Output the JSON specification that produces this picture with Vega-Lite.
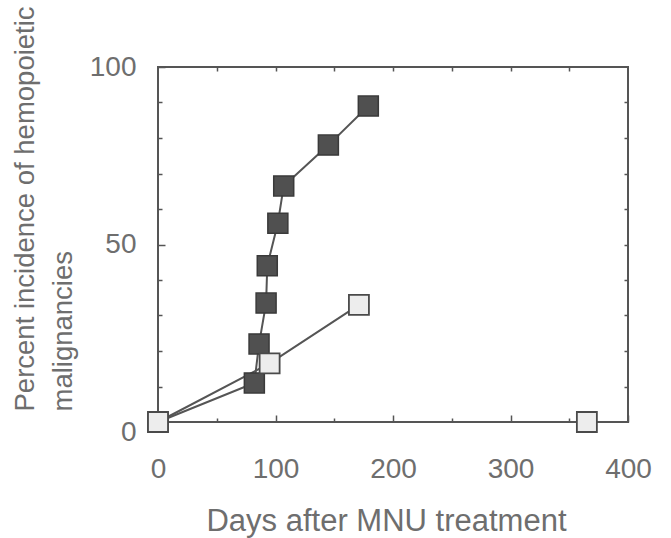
{
  "$schema": "https://vega.github.io/schema/vega-lite/v6.json",
  "width": 470,
  "height": 355,
  "autosize": {"type": "none"},
  "padding": {"left": 158, "top": 67, "right": 43, "bottom": 116},
  "background": "white",
  "config": {
    "view": {"stroke": "#555555", "strokeWidth": 2},
    "font": "Liberation Sans",
    "axis": {
      "domain": false,
      "grid": false,
      "tickColor": "#555555",
      "tickWidth": 1.5,
      "labelFont": "Liberation Sans",
      "labelFontSize": 28,
      "labelColor": "#6e6e6e",
      "titleFont": "Liberation Sans",
      "titleColor": "#6e6e6e",
      "titleFontWeight": "normal"
    }
  },
  "data": {
    "values": [
      {"group": "MNU", "days": 0, "pct": 0},
      {"group": "MNU", "days": 82, "pct": 11},
      {"group": "MNU", "days": 86, "pct": 22},
      {"group": "MNU", "days": 92, "pct": 33.5},
      {"group": "MNU", "days": 93, "pct": 44},
      {"group": "MNU", "days": 102, "pct": 56},
      {"group": "MNU", "days": 107, "pct": 66.5},
      {"group": "MNU", "days": 145, "pct": 78},
      {"group": "MNU", "days": 179, "pct": 89},
      {"group": "MNU+B", "days": 0, "pct": 0},
      {"group": "MNU+B", "days": 95, "pct": 16.5},
      {"group": "MNU+B", "days": 171, "pct": 33},
      {"group": "Control", "days": 365, "pct": 0}
    ]
  },
  "layer": [
    {
      "mark": {"type": "line", "color": "#555555", "strokeWidth": 2},
      "transform": [{"filter": "datum.group !== 'Control'"}],
      "encoding": {
        "x": {
          "field": "days", "type": "quantitative",
          "scale": {"domain": [0, 400], "nice": false, "zero": false},
          "axis": {
            "orient": "bottom",
            "values": [0, 100, 200, 300, 400],
            "tickSize": -7,
            "labelPadding": 40,
            "labelFlush": false,
            "labelOverlap": false,
            "title": "Days after MNU treatment",
            "titleFontSize": 31,
            "titleX": 228,
            "titleY": 108,
            "titleAlign": "center",
            "titleBaseline": "alphabetic",
            "titleAnchor": "middle"
          }
        },
        "y": {
          "field": "pct", "type": "quantitative",
          "scale": {"domain": [0, 100], "nice": false, "zero": false},
          "axis": {
            "orient": "left",
            "values": [0, 50, 100],
            "tickSize": -7,
            "labelPadding": 29,
            "labelFlush": false,
            "labelOverlap": false,
            "labelOffset": {"condition": {"test": "datum.value === 0", "value": 10}, "value": 0},
            "title": ["Percent incidence of hemopoietic", "malignancies"],
            "titleFontSize": 27.5,
            "titleLineHeight": 38,
            "titleAngle": -90,
            "titleX": -147,
            "titleY": 344,
            "titleAlign": "left",
            "titleBaseline": "top"
          }
        },
        "detail": {"field": "group"}
      }
    },
    {
      "mark": {"type": "point", "shape": "square", "filled": true, "size": 400, "stroke": "#3a3a3a", "strokeWidth": 1.5, "opacity": 1},
      "transform": [{"filter": "datum.group === 'MNU'"}],
      "encoding": {
        "x": {
          "field": "days", "type": "quantitative",
          "axis": {"orient": "top", "values": [50, 100, 150, 200, 250, 300, 350], "tickSize": -4, "labels": false, "title": null}
        },
        "y": {
          "field": "pct", "type": "quantitative",
          "axis": {"orient": "right", "values": [10, 20, 30, 40, 50, 60, 70, 80, 90], "tickSize": -4, "labels": false, "title": null}
        },
        "fill": {"value": "#505050"}
      }
    },
    {
      "mark": {"type": "point", "shape": "square", "filled": true, "size": 400, "stroke": "#4a4a4a", "strokeWidth": 1.8, "opacity": 1},
      "transform": [{"filter": "datum.group !== 'MNU'"}],
      "encoding": {
        "x": {
          "field": "days", "type": "quantitative",
          "axis": {"orient": "bottom", "values": [50, 150, 250, 350], "tickSize": -4, "labels": false, "title": null}
        },
        "y": {
          "field": "pct", "type": "quantitative",
          "axis": {"orient": "left", "values": [10, 20, 30, 40, 60, 70, 80, 90], "tickSize": -4, "labels": false, "title": null}
        },
        "fill": {"value": "#ededed"}
      }
    }
  ],
  "resolve": {"axis": {"x": "independent", "y": "independent"}}
}
